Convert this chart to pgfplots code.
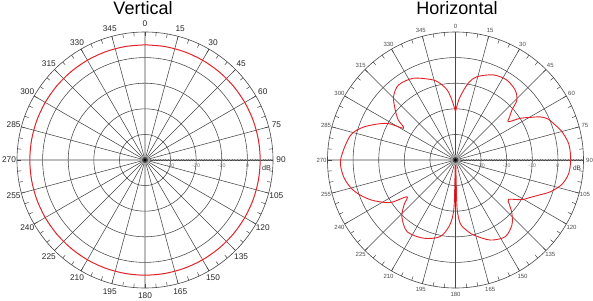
\documentclass[border=0pt]{standalone}
\usepackage{pgfplots}
\pgfplotsset{compat=1.18}
\usepgfplotslibrary{polar}
\usepackage{pgfplotstable}
\usepackage{fontspec}
\setmainfont{Liberation Sans}
\definecolor{patred}{RGB}{225,35,40}
\definecolor{gridc}{RGB}{70,70,70}

% Vertical pattern: compass angle (deg), level (dB)
\pgfplotstableread{
ang db
0 5
10 5
20 5
30 5
40 5
50 5
60 5
70 5
80 5
90 5
100 5
110 5
120 5
130 5
140 5
150 5
160 5
170 5
180 5
190 5
200 5
210 5
220 5
230 5
240 5
250 5
260 5
270 5
280 5
290 5
300 5
310 5
320 5
330 5
340 5
350 5
360 5
}\vertdata

% Horizontal pattern: compass angle (deg), level (dB)
\pgfplotstableread{
ang db
0 -21.1
3 -16.6
6.5 -12.7
10 -9.1
14.4 -6.4
24 -3.6
32.7 -2.9
40.5 -4.1
45.7 -6.5
48.4 -10.5
51.5 -13.0
54.1 -14.5
57.2 -9.9
60 -6.8
63 -2.9
66 -0.5
70 1.0
75 3.0
82 4.7
90 5.0
97 4.5
103 2.6
108.5 -0.9
113 -4.8
117 -7.6
121 -9.9
126.6 -14.2
129.5 -12.7
133.4 -9.7
139 -6.4
147 -4.3
156.5 -5.9
166.5 -9.9
172 -12.7
175.8 -15.2
178.2 -21.6
180 -40
181.8 -21.6
185 -14.6
191.3 -9.5
202.2 -7.0
214 -6.2
223.4 -9.5
229 -13.4
232.9 -16.2
237 -9.5
245 -3.3
253 1.4
261 4.1
270 4.9
283 2.2
290 -2.1
298 -9.5
301.4 -16.2
305 -12.7
309.7 -9.4
315.6 -5.4
322.8 -3.2
332.8 -4.1
344.6 -7.6
350 -10.3
353.5 -12.7
356.6 -16.6
360 -21.1
}\horizdata

\pgfplotsset{mypolar/.style={
  scale only axis, width=256pt, height=256pt,
  xmin=0, xmax=360, ymin=0, ymax=50,
  xtick={0,15,...,345}, xticklabels={},
  ytick={10,20,30,40}, yticklabels={},
  xmajorgrids, ymajorgrids,
  major grid style={draw=gridc, line width=0.55pt},
  axis line style={draw=gridc, line width=0.6pt},
  major tick length=0pt, minor tick length=0pt,
  clip=false,
  anchor=center,
}}

\newcommand{\decor}[5]{% center, label radius, label font size, label color, dB font
  \begin{scope}[shift={(#1)}]
    \foreach \c in {0,5,...,355} \draw[gridc, line width=0.5pt] (\c:124pt) -- (\c:128pt);
    \foreach \r in {1,...,49} \draw[black!55, line width=0.3pt] ({\r*2.56pt},-0.9pt) -- ({\r*2.56pt},0.9pt);
    \foreach \c in {0,15,...,345}
      \node[font=\fontsize{#3}{#3}\selectfont, text=#4, inner sep=0pt] at ({90-\c}:#2) {\c};
    \foreach \v/\rr in {-30/25.6, -20/51.2, -10/76.8, 0/102.4}
      \node[font=\fontsize{5.3}{5.3}\selectfont, text=black!55, inner sep=0pt] at (\rr pt,-6pt) {\v};
    \node[font=\fontsize{#5}{#5}\selectfont, text=black!80, inner sep=0pt] at (121.5pt,-8pt) {dB};
    \fill[black!35] (0,0) circle (5pt);
    \fill[black!70] (0,0) circle (3pt);
    \fill[black] (0,0) circle (1.6pt);
  \end{scope}
}

\begin{document}
\begin{tikzpicture}[x=1pt,y=1pt]
\useasboundingbox (0,0) rectangle (593,300);

\begin{polaraxis}[mypolar, at={(145pt,140pt)}]
  \addplot[patred, line width=1pt, smooth, no markers]
    table[x expr={90-\thisrow{ang}}, y expr={\thisrow{db}+40}] {\vertdata};
  \coordinate (cL) at (axis cs:0,0);
\end{polaraxis}

\begin{polaraxis}[mypolar, at={(455.5pt,140pt)}]
  \addplot[patred, line width=0.9pt, smooth, no markers]
    table[x expr={90-\thisrow{ang}}, y expr={\thisrow{db}+40}] {\horizdata};
  \coordinate (cR) at (axis cs:0,0);
\end{polaraxis}

\decor{cL}{136pt}{8.3}{black!85}{7.2}
\decor{cR}{134pt}{6}{black!70}{6.5}

\node[anchor=base, font=\fontsize{18}{18}\selectfont] at (143,285.5) {Vertical};
\node[anchor=base, font=\fontsize{18}{18}\selectfont] at (457,285.5) {Horizontal};
\end{tikzpicture}
\end{document}
